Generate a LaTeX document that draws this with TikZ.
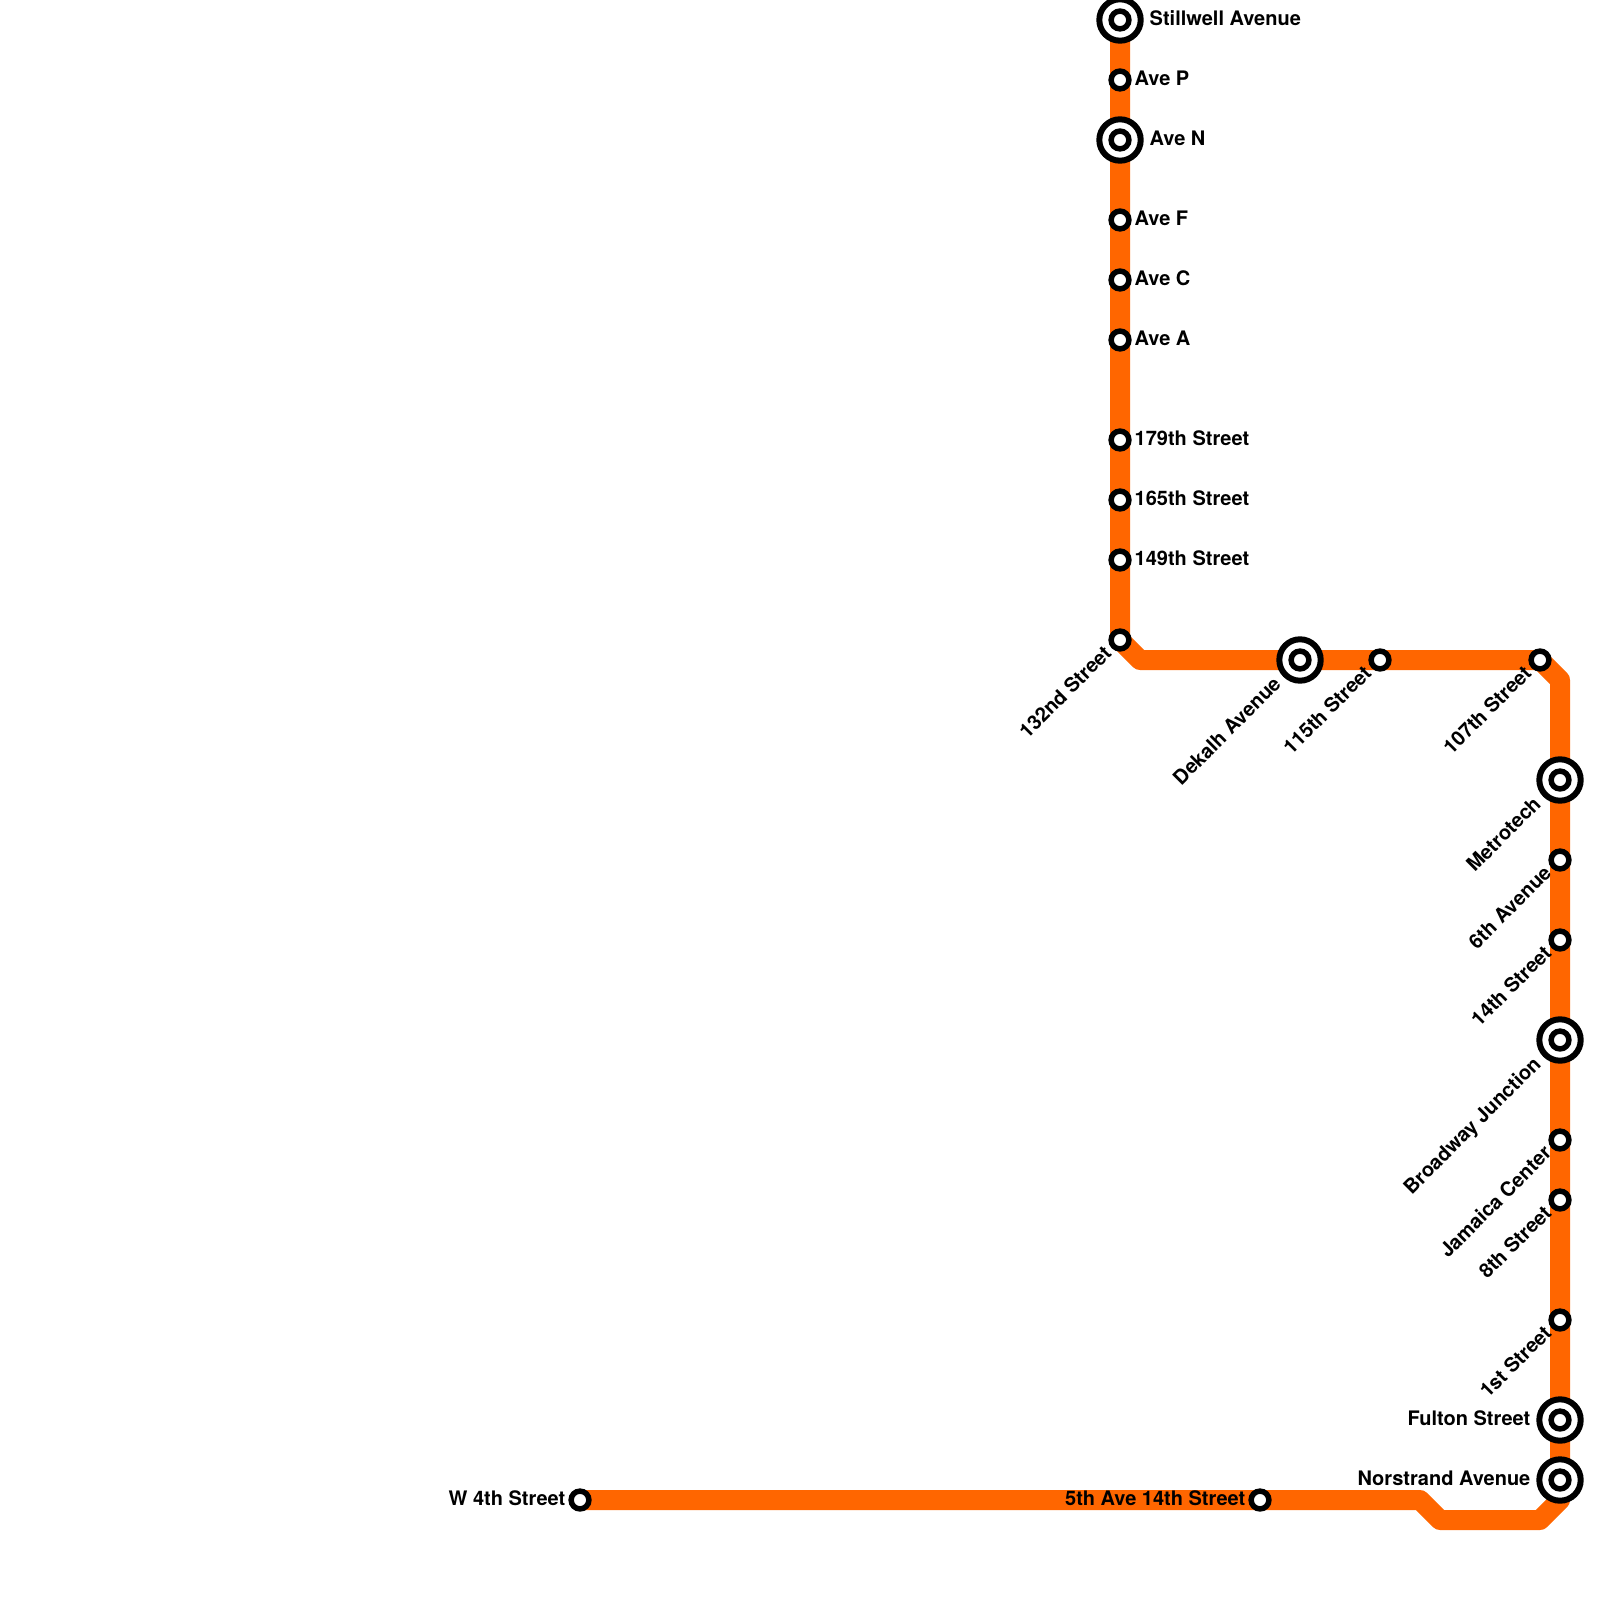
\documentclass[tikz,border=0pt]{standalone}
\usepackage{fontspec}
\setmainfont{TeX Gyre Heros}
\usetikzlibrary{positioning,backgrounds}
\definecolor{linecolor}{RGB}{255,102,0}

\begin{document}
\begin{tikzpicture}[
    stop/.style={circle, draw=black, fill=white, line width=0.055cm, minimum size=0.178cm, inner sep=0pt},
    ring/.style={circle, draw=black, fill=white, line width=0.06cm, minimum size=0.414cm, inner sep=0pt},
    route/.style={draw=linecolor, line width=0.2cm, line join=round},
    lbl/.style={font=\fontsize{5.69pt}{6.8pt}\selectfont\bfseries, inner sep=0pt, text=black},
    east lbl/.style={lbl, anchor=base west, xshift=0.14cm, yshift=-0.053cm},
    far east lbl/.style={lbl, anchor=base west, xshift=0.29cm, yshift=-0.053cm},
    west lbl/.style={lbl, anchor=base east, xshift=-0.14cm, yshift=-0.053cm},
    far west lbl/.style={lbl, anchor=base east, xshift=-0.29cm, yshift=-0.053cm},
    diag lbl/.style={lbl, anchor=base east, xshift=-0.07cm, yshift=-0.14cm, rotate=45},
    far diag lbl/.style={lbl, anchor=base east, xshift=-0.175cm, yshift=-0.25cm, rotate=45},
]
\useasboundingbox (0,0) rectangle (16,-16);

% Upper branch
\node[ring] (ring_stillwell) at (11.2,-0.2) {};
\node[stop] (stillwell) at (ring_stillwell.center) {};
\node[stop] (ave_p) at (11.2,-0.8) {};
\node[ring] (ring_ave_n) at (11.2,-1.4) {};
\node[stop] (ave_n) at (ring_ave_n.center) {};
\node[stop] (ave_f) at (11.2,-2.2) {};
\node[stop] (ave_c) at (11.2,-2.8) {};
\node[stop] (ave_a) at (11.2,-3.4) {};
\node[stop] (st_179) at (11.2,-4.4) {};
\node[stop] (st_165) at (11.2,-5.0) {};
\node[stop] (st_149) at (11.2,-5.6) {};
\node[stop] (st_132) at (11.2,-6.4) {};

% Middle section
\node[ring] (ring_dekalb) at (13.0,-6.6) {};
\node[stop] (dekalb) at (ring_dekalb.center) {};
\node[stop] (st_115) at (13.8,-6.6) {};
\node[stop] (st_107) at (15.4,-6.6) {};

% Right side
\node[ring] (ring_metrotech) at (15.6,-7.8) {};
\node[stop] (metrotech) at (ring_metrotech.center) {};
\node[stop] (ave_6) at (15.6,-8.6) {};
\node[stop] (st_14) at (15.6,-9.4) {};
\node[ring] (ring_broadway) at (15.6,-10.4) {};
\node[stop] (broadway) at (ring_broadway.center) {};
\node[stop] (jamaica) at (15.6,-11.4) {};
\node[stop] (st_8) at (15.6,-12.0) {};
\node[stop] (st_1) at (15.6,-13.2) {};
\node[ring] (ring_fulton) at (15.6,-14.2) {};
\node[stop] (fulton) at (ring_fulton.center) {};
\node[ring] (ring_norstrand) at (15.6,-14.8) {};
\node[stop] (norstrand) at (ring_norstrand.center) {};

% Bottom section
\node[stop] (fifth_ave) at (12.6,-15.0) {};
\node[stop] (w_4th) at (5.8,-15.0) {};

% Bends
\coordinate (bend_a) at (11.4,-6.6);
\coordinate (bend_b) at (15.6,-6.8);
\coordinate (bend_c) at (15.6,-15.0);
\coordinate (bend_d) at (15.4,-15.2);
\coordinate (bend_e) at (14.4,-15.2);
\coordinate (bend_f) at (14.2,-15.0);

% Route
\begin{scope}[on background layer]
\draw[route] (stillwell.center) -- (st_132.center) -- (bend_a) -- (st_107.center) -- (bend_b) -- (bend_c) -- (bend_d) -- (bend_e) -- (bend_f) -- (w_4th.center);
\end{scope}

% Labels
\node[far east lbl] (lbl_stillwell) at (stillwell) {Stillwell Avenue};
\node[east lbl] (lbl_ave_p) at (ave_p) {Ave P};
\node[far east lbl] (lbl_ave_n) at (ave_n) {Ave N};
\node[east lbl] (lbl_ave_f) at (ave_f) {Ave F};
\node[east lbl] (lbl_ave_c) at (ave_c) {Ave C};
\node[east lbl] (lbl_ave_a) at (ave_a) {Ave A};
\node[east lbl] (lbl_179) at (st_179) {179th Street};
\node[east lbl] (lbl_165) at (st_165) {165th Street};
\node[east lbl] (lbl_149) at (st_149) {149th Street};

\node[diag lbl] (lbl_132) at (st_132) {132nd Street};
\node[far diag lbl] (lbl_dekalb) at (dekalb) {Dekalh Avenue};
\node[diag lbl] (lbl_115) at (st_115) {115th Street};
\node[diag lbl] (lbl_107) at (st_107) {107th Street};
\node[far diag lbl] (lbl_metrotech) at (metrotech) {Metrotech};
\node[diag lbl] (lbl_6) at (ave_6) {6th Avenue};
\node[diag lbl] (lbl_14) at (st_14) {14th Street};
\node[far diag lbl] (lbl_broadway) at (broadway) {Broadway Junction};
\node[diag lbl] (lbl_jamaica) at (jamaica) {Jamaica Center};
\node[diag lbl] (lbl_8) at (st_8) {8th Street};
\node[diag lbl] (lbl_1) at (st_1) {1st Street};

\node[far west lbl] (lbl_fulton) at (fulton) {Fulton Street};
\node[far west lbl] (lbl_norstrand) at (norstrand) {Norstrand Avenue};
\node[west lbl] (lbl_fifth) at (fifth_ave) {5th Ave 14th Street};
\node[west lbl] (lbl_w_4th) at (w_4th) {W 4th Street};

\end{tikzpicture}
\end{document}
